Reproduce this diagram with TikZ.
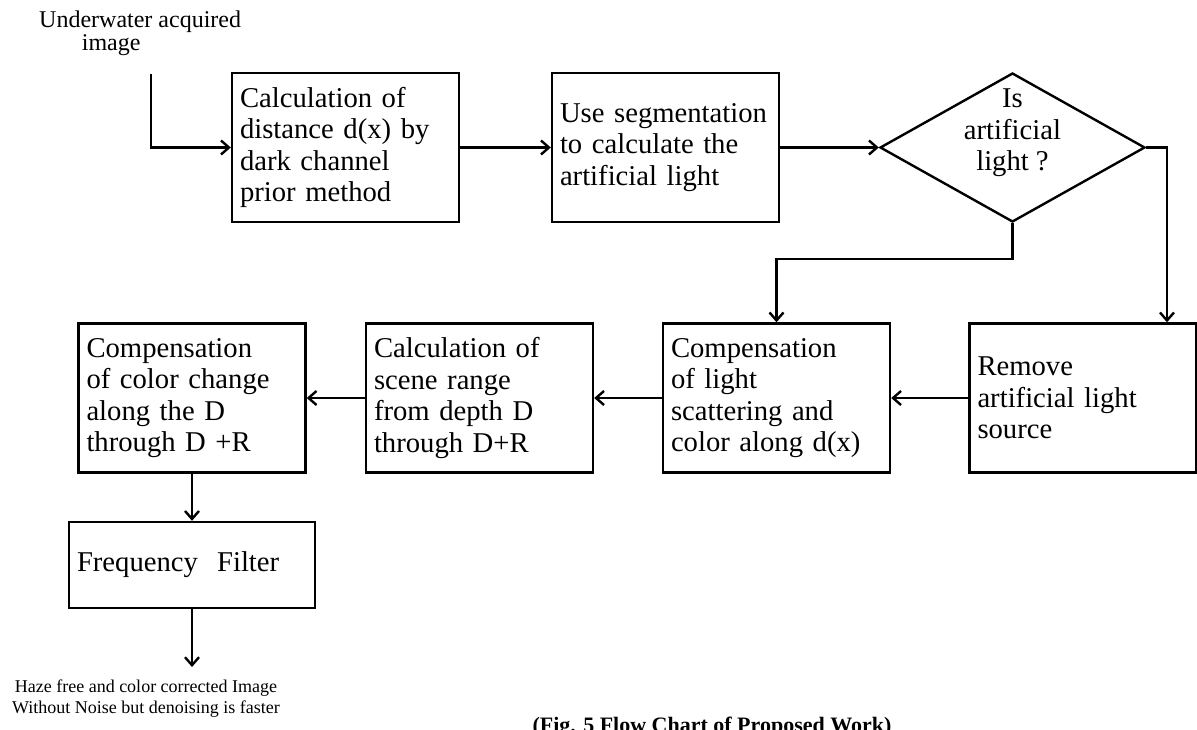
\documentclass[tikz,border=0pt]{standalone}
\usepackage{fontspec}
\setmainfont{Liberation Serif}
\usetikzlibrary{shapes.geometric,arrows.meta}
\newcommand{\boxfont}{\fontsize{21.5}{23.6}\selectfont\hyphenpenalty=10000\relax}

\begin{document}
\begin{tikzpicture}[x=0.75pt,y=-0.75pt,
    line width=1.8pt, >={Straight Barb[length=6pt,width=10.5pt]},
    procbox/.style={draw, rectangle, minimum width=170.25pt, minimum height=111.75pt,
        text width=158.25pt, inner xsep=6pt, align=left, font=\boxfont},
    decision/.style={draw, diamond, minimum width=198.75pt, minimum height=111.75pt,
        aspect=1.78, inner sep=0pt},
    note/.style={inner sep=0pt, font=\fontsize{13.5}{15.5}\selectfont}]
    \useasboundingbox (0,0) rectangle (1197,729);

    % Input
    \node[note, anchor=north west, align=left, font=\fontsize{18}{17}\selectfont] (inlabel) at (38,10)
        {Underwater acquired\\\hspace*{32pt}image};
    \coordinate (src) at (151,74);

    % Top row
    \node[procbox] (calc) at (345.5,147.5) {Calculation of\\distance d(x) by\\dark channel\\prior method};
    \node[procbox] (seg) at (665.5,147.5) {Use segmentation\\to calculate the\\artificial light};
    \node[decision] (decide) at (1012.5,147.5) {};
    \node[align=center, font=\boxfont] (ask) at (1012.5,133) {Is\\artificial\\light ?};

    % Second row
    \node[procbox] (remove) at (1083,398) {Remove\\artificial light\\source};
    \node[procbox] (scatter) at (776.5,398) {Compensation\\of light\\scattering and\\color along d(x)};
    \node[procbox] (range) at (479.5,398) {Calculation of\\scene range\\from depth D\\through D+R};
    \node[procbox] (colour) at (192,398) {Compensation\\of color change\\along the D\\through D +R};

    % Filter and output
    \node[procbox, minimum width=184.5pt, text width=172.5pt, minimum height=64.5pt] (filter) at (192,565)
        {Frequency\ \ Filter};
    \coordinate (sink) at (192,667);
    \node[note, anchor=north, align=center] (outlabel) at (146,679)
        {Haze free and color corrected Image\\Without Noise but denoising is faster};

    \node[anchor=base, font=\fontsize{16.5}{18}\selectfont\bfseries] (caption) at (712,732)
        {(Fig. 5 Flow Chart of Proposed Work)};

    % Connectors
    \draw[->] (src) |- (calc.west);
    \draw[->] (calc) -- (seg);
    \draw[->] (seg) -- (decide);
    \coordinate (rturn) at (1167,147.5);
    \draw[->] (decide.east) -- (rturn) -- (rturn |- remove.north);
    \coordinate (lturn) at (1012.5,259);
    \draw[->] (decide.south) -- (lturn) -| (scatter.north);
    \draw[->] (remove) -- (scatter);
    \draw[->] (scatter) -- (range);
    \draw[->] (range) -- (colour);
    \draw[->] (colour) -- (filter);
    \draw[->] (filter) -- (sink);
\end{tikzpicture}
\end{document}
